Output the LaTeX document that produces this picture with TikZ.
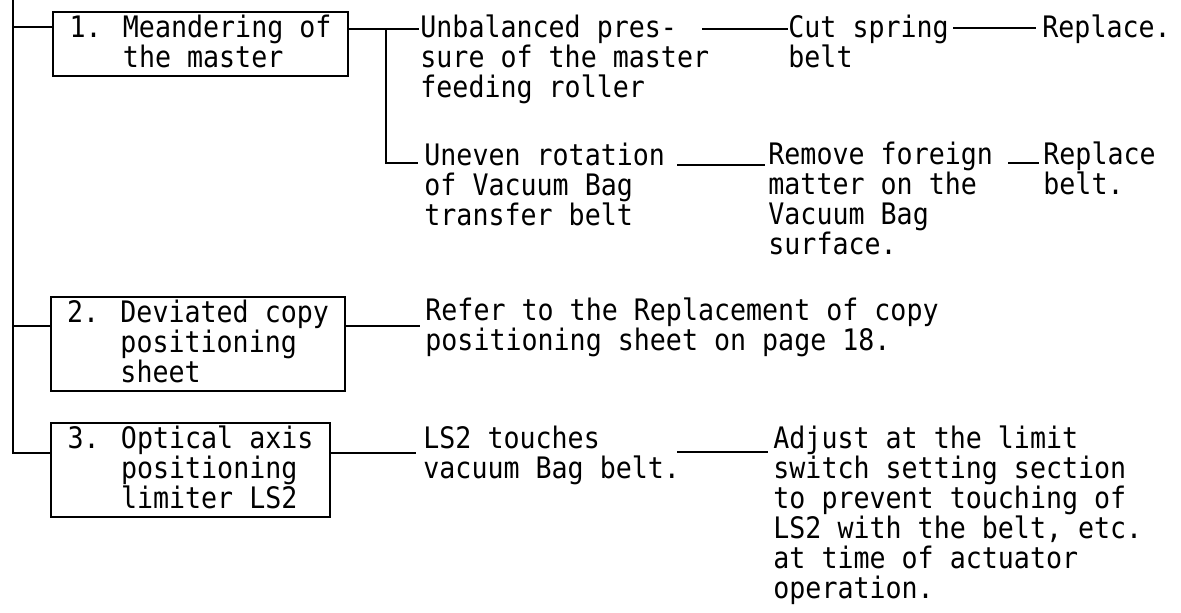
\documentclass[tikz,border=0pt]{standalone}
\usepackage{fontspec}
\newfontfamily\tw[FakeStretch=0.9]{DejaVu Sans Mono}
\newcommand\firstln{\rule{0pt}{12pt}}
\newcommand\lastln{\rule[-3.5pt]{0pt}{3.5pt}}
\tikzset{
  txt/.style={anchor=north west, inner sep=0pt, align=left,
    font=\tw\fontsize{14.8pt}{15pt}\selectfont},
  boxnode/.style={draw, line width=0.8pt, inner sep=0pt, align=left,
    font=\tw\fontsize{14.8pt}{15pt}\selectfont},
  conn/.style={line width=0.75pt}
}
\begin{document}
\begin{tikzpicture}[x=0.5pt,y=-0.5pt]
\fill[white] (0,0) rectangle (1181,613);
\useasboundingbox (0,0) rectangle (1181,613);

% boxes
\node[boxnode, minimum width=147.5pt, minimum height=32pt] (b1) at (200.5,44)
  {\firstln 1. Meandering of\\\phantom{1. }the master\lastln};
\node[boxnode, minimum width=147pt, minimum height=47pt] (b2) at (198,344)
  {\firstln 2. Deviated copy\\\phantom{2. }positioning\\\phantom{2. }sheet\lastln};
\node[boxnode, minimum width=139.5pt, minimum height=47pt] (b3) at (190.5,470)
  {\firstln 3. Optical axis\\\phantom{3. }positioning\\\phantom{3. }limiter LS2\lastln};

% texts
\node[txt] (unb) at (420,13) {\firstln Unbalanced pres-\\sure of the master\\feeding roller};
\node[txt] (cut) at (788,13) {\firstln Cut spring\\belt};
\node[txt] (rep1) at (1042,13) {\firstln Replace.};
\node[txt] (unev) at (424,141) {\firstln Uneven rotation\\of Vacuum Bag\\transfer belt};
\node[txt] (rem) at (768,140) {\firstln Remove foreign\\matter on the\\Vacuum Bag\\surface.};
\node[txt] (rep2) at (1043,140) {\firstln Replace\\belt.};
\node[txt] (ref) at (425,296) {\firstln Refer to the Replacement of copy\\positioning sheet on page 18.};
\node[txt] (ls2) at (423,424) {\firstln LS2 touches\\vacuum Bag belt.};
\node[txt] (adj) at (773,424) {\firstln Adjust at the limit\\switch setting section\\to prevent touching of\\LS2 with the belt, etc.\\at time of actuator\\operation.};

% coordinates
\coordinate (top) at (13,0);
\coordinate (t1) at (13,27);
\coordinate (t2) at (13,326);
\coordinate (t3) at (13,453);
\coordinate (j1) at (386,29);
\coordinate (j2) at (386,163);
\coordinate (ue1) at (702,29);
\coordinate (ce) at (953,28);
\coordinate (ue2) at (677,165);
\coordinate (re) at (1008,163);
\coordinate (l2e) at (677,452);

% connectors
\draw[conn] (top) -- (t3) -- (b3.west |- t3);
\draw[conn] (t1) -- (b1.west |- t1);
\draw[conn] (t2) -- (b2.west |- t2);
\draw[conn] (b1.east |- j1) -- (j1) -- ([xshift=-0.5pt]unb.west |- j1);
\draw[conn] (j1) -- (j2) -- ([xshift=-3pt]unev.west |- j2);
\draw[conn] (ue1) -- (cut.west |- ue1);
\draw[conn, shorten >=3pt] (ce) -- (rep1.west |- ce);
\draw[conn, shorten >=1.5pt] (ue2) -- (rem.west |- ue2);
\draw[conn, shorten >=2pt] (re) -- (rep2.west |- re);
\draw[conn, shorten >=2.5pt] (b2.east |- t2) -- (ref.west |- t2);
\draw[conn, shorten >=3.5pt] (b3.east |- t3) -- (ls2.west |- t3);
\draw[conn, shorten >=2.5pt] (l2e) -- (adj.west |- l2e);
\end{tikzpicture}
\end{document}
